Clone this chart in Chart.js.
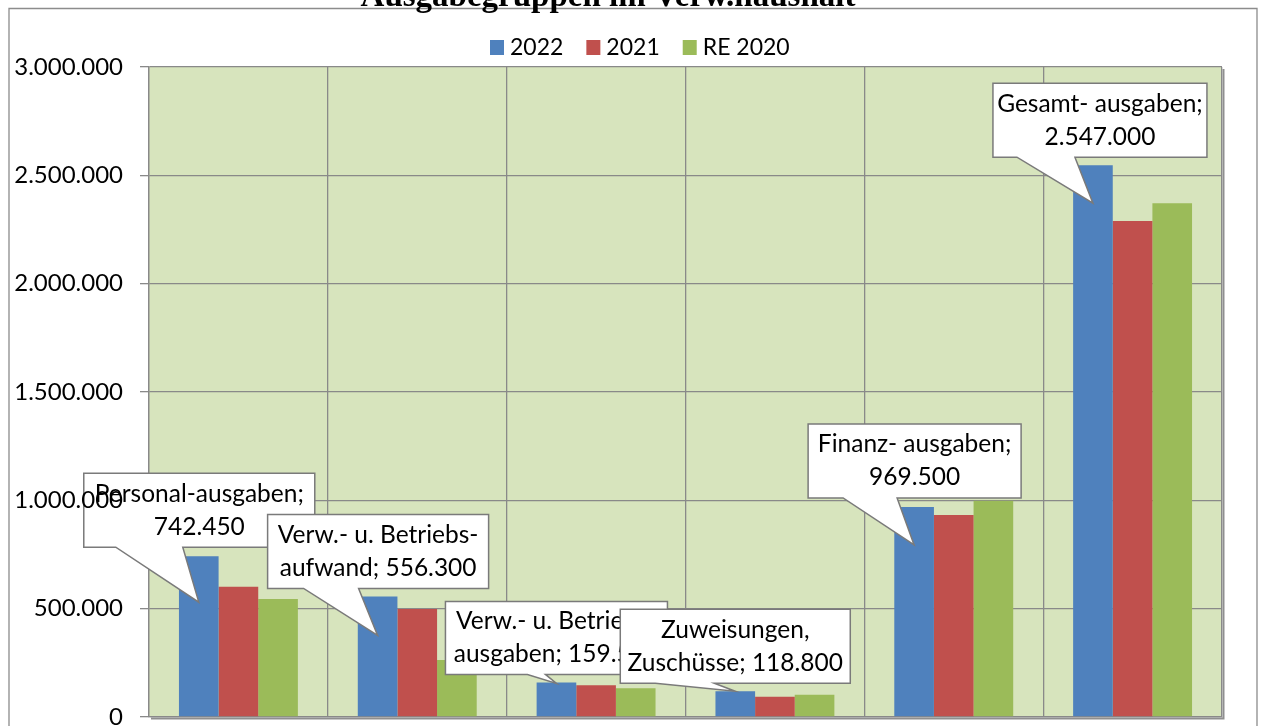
<!DOCTYPE html>
<html><head><meta charset="utf-8">
<script src="https://cdn.jsdelivr.net/npm/chart.js@4/dist/chart.umd.min.js"></script>
<style>html,body{margin:0;padding:0;background:#fff;overflow:hidden}#wrap{width:1262px;height:726px;position:relative}</style>
</head><body><div id="wrap"><canvas id="c" width="1262" height="726"></canvas></div>
<script>
// ---- data ----
const chartTitle = "Ausgabegruppen im Verw.haushalt";
const categories = ["Personal-ausgaben", "Verw.- u. Betriebs-aufwand", "Verw.- u. Betriebs-ausgaben", "Zuweisungen, Zuschüsse", "Finanz- ausgaben", "Gesamt- ausgaben"];
const calloutLines = [["Personal-ausgaben;"], ["Verw.- u. Betriebs-", "aufwand;"], ["Verw.- u. Betriebs-", "ausgaben;"], ["Zuweisungen,", "Zuschüsse;"], ["Finanz- ausgaben;"], ["Gesamt- ausgaben;"]];
const seriesNames = ["2022", "2021", "RE 2020"];
const values2022 = [742450, 556300, 159500, 118800, 969500, 2547000];
const values2021 = [601000, 499000, 147000, 94000, 932000, 2289000];
const valuesRE2020 = [545000, 263000, 133000, 103000, 998000, 2371000];
const yMin = 0, yMax = 3000000, yStep = 500000;

// ---- styles / layout ----
const colors = ["#4F81BD", "#C0504D", "#9BBB59"];
const plotBg = "#D7E4BD";
const gridColor = "#898989";
const calloutLayout = [
  {tipDy: 46, bx: -115, by: -129, w: 231, h: 74, b1: 32, b2: 99},
  {tipDy: 39, bx: -110, by: -121, w: 221, h: 74, b1: 36, b2: 91},
  {tipDy: 1,  bx: -111, by: -82,  w: 222, h: 73, b1: 82, b2: 100},
  {tipDy: 0,  bx: -115, by: -82,  w: 230, h: 74, b1: 35, b2: 94},
  {tipDy: 38, bx: -106, by: -121, w: 213, h: 74, b1: 35, b2: 89},
  {tipDy: 38, bx: -100, by: -120, w: 214, h: 74, b1: 24, b2: 82}
];
const fmt = n => String(Math.round(n)).replace(/\B(?=(\d{3})+(?!\d))/g, '.');

const bgPlugin = {
  id: 'bg',
  beforeDraw(chart) {
    const {ctx, chartArea: a} = chart;
    ctx.save();
    ctx.fillStyle = plotBg;
    ctx.fillRect(a.left, a.top, a.right - a.left, a.bottom - a.top);
    ctx.restore();
  }
};

const calloutPlugin = {
  id: 'callouts',
  afterDatasetsDraw(chart) {
    const ctx = chart.ctx;
    const meta = chart.getDatasetMeta(0);
    const vals = chart.data.datasets[0].data;
    ctx.save();
    ctx.font = '24.5px Lato';
    ctx.textAlign = 'center';
    ctx.textBaseline = 'middle';
    calloutLayout.forEach((L, i) => {
      const bar = meta.data[i];
      const tx = bar.x, ty = bar.y + L.tipDy;
      const x0 = tx + L.bx, y0 = ty + L.by, x1 = x0 + L.w, y1 = y0 + L.h;
      ctx.beginPath();
      ctx.moveTo(x0, y0);
      ctx.lineTo(x1, y0);
      ctx.lineTo(x1, y1);
      ctx.lineTo(x0 + L.b2, y1);
      ctx.lineTo(tx, ty);
      ctx.lineTo(x0 + L.b1, y1);
      ctx.lineTo(x0, y1);
      ctx.closePath();
      ctx.fillStyle = '#fff';
      ctx.fill();
      ctx.strokeStyle = '#7a7a7a';
      ctx.lineWidth = 1.5;
      ctx.stroke();
      const lines = calloutLines[i].slice();
      if (lines.length === 1) lines.push(fmt(vals[i]));
      else lines[lines.length - 1] += ' ' + fmt(vals[i]);
      const cx = (x0 + x1) / 2, cy = (y0 + y1) / 2;
      ctx.fillStyle = '#000';
      ctx.fillText(lines[0], cx, cy - 16.5);
      ctx.fillText(lines[1], cx, cy + 16.5);
    });
    ctx.restore();
  }
};

const decoPlugin = {
  id: 'deco',
  afterDraw(chart) {
    const {ctx, chartArea: a} = chart;
    ctx.save();
    // plot area shadow right/bottom
    ctx.strokeStyle = '#8f8f8f';
    ctx.lineWidth = 2;
    ctx.beginPath();
    ctx.moveTo(a.right + 1.5, a.top + 2);
    ctx.lineTo(a.right + 1.5, a.bottom + 1.5);
    ctx.lineTo(a.left + 2, a.bottom + 1.5);
    ctx.stroke();
    // page frame
    ctx.strokeStyle = '#8c8c8c';
    ctx.lineWidth = 1.3;
    ctx.beginPath();
    ctx.moveTo(9, 726);
    ctx.lineTo(9, 8.5);
    ctx.lineTo(1257, 8.5);
    ctx.lineTo(1257, 726);
    ctx.stroke();
    // title (cut off at top)
    ctx.fillStyle = '#000';
    ctx.font = 'bold 33px "Liberation Serif"';
    ctx.textAlign = 'center';
    ctx.textBaseline = 'alphabetic';
    ctx.fillText(chartTitle, 608, 6);
    // legend
    ctx.font = '23px Lato';
    ctx.textAlign = 'left';
    ctx.textBaseline = 'middle';
    let x = 490;
    chart.data.datasets.forEach((ds, i) => {
      ctx.fillStyle = ds.backgroundColor;
      ctx.fillRect(x, 40, 14, 15);
      ctx.fillStyle = '#000';
      ctx.fillText(ds.label, x + 20, 48);
      x += 20 + ctx.measureText(ds.label).width + 23;
    });
    ctx.restore();
  }
};

new Chart(document.getElementById('c'), {
  type: 'bar',
  data: {
    labels: categories,
    datasets: [
      {label: seriesNames[0], data: values2022, backgroundColor: colors[0]},
      {label: seriesNames[1], data: values2021, backgroundColor: colors[1]},
      {label: seriesNames[2], data: valuesRE2020, backgroundColor: colors[2]}
    ]
  },
  options: {
    responsive: false,
    animation: false,
    devicePixelRatio: 1,
    categoryPercentage: 0.665,
    barPercentage: 1.0,
    layout: {padding: {left: 0, top: 67, right: 40, bottom: 9}},
    plugins: {legend: {display: false}, title: {display: false}, tooltip: {enabled: false}},
    scales: {
      x: {
        grid: {color: gridColor, lineWidth: 1.3, offset: true, drawTicks: false},
        border: {color: gridColor, width: 1.3},
        ticks: {display: false},
        afterFit(s) { s.height = 0; s.paddingLeft = 0; s.paddingRight = 0; }
      },
      y: {
        min: yMin, max: yMax,
        ticks: {stepSize: yStep, color: '#000', font: {family: 'Lato', size: 24}, padding: 17, callback: v => fmt(v), z: 1},
        grid: {color: gridColor, lineWidth: 1.3, tickLength: 9, tickColor: gridColor},
        border: {color: gridColor, width: 1.3},
        afterFit(s) { s.width = 149; s.paddingTop = 0; s.paddingBottom = 0; }
      }
    }
  },
  plugins: [bgPlugin, calloutPlugin, decoPlugin]
});
</script>
</body></html>
